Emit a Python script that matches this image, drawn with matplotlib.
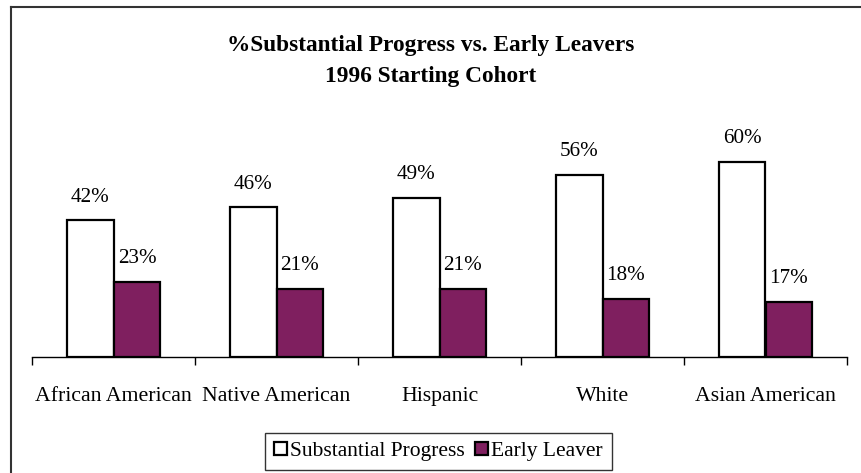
import numpy as np
import matplotlib
matplotlib.use("Agg")
import matplotlib.pyplot as plt
from matplotlib.lines import Line2D

# Data
groups = ["African American", "Native American", "Hispanic", "White", "Asian American"]
progress = [0.42, 0.46, 0.49, 0.56, 0.60]
leavers = [0.23, 0.21, 0.21, 0.18, 0.17]
series_names = ["Substantial Progress", "Early Leaver"]

plt.rcParams['font.family'] = ['Liberation Serif', 'DejaVu Serif']

fig = plt.figure(figsize=(8.62, 4.73), dpi=100)
ax = fig.add_axes([32 / 862, (473 - 357) / 473, 815 / 862, 227.5 / 473])

x = np.arange(len(groups))
w = 0.288
purple = '#7F1F5F'

b1 = ax.bar(x - w / 2, progress, w, color='white', edgecolor='black', linewidth=1.6,
            label=series_names[0])
b2 = ax.bar(x + w / 2, leavers, w, color=purple, edgecolor='black', linewidth=1.6,
            label=series_names[1])

for bars, vals in [(b1, progress), (b2, leavers)]:
    for rect, v in zip(bars, vals):
        ax.annotate(f"{v * 100:.0f}%", (rect.get_x() + rect.get_width() / 2, v),
                    xytext=(0, 10), textcoords='offset points',
                    ha='center', va='bottom', fontsize=15.2)

ax.set_xlim(-0.5, len(groups) - 0.5)
ax.set_ylim(0, 0.7)

# group boundaries get tick marks, category names sit in between
ax.set_xticks(np.arange(len(groups) + 1) - 0.5)
ax.set_xticklabels([])
ax.set_xticks(x, minor=True)
ax.set_xticklabels(groups, minor=True, fontsize=15.7)
ax.tick_params(axis='x', which='major', direction='out', length=6, width=1)
ax.tick_params(axis='x', which='minor', length=0, pad=21.5)
ax.set_yticks([])

for s in ['left', 'top', 'right']:
    ax.spines[s].set_visible(False)
ax.spines['bottom'].set_linewidth(1)

fig.text(0.5, 1 - 45 / 473, "%Substantial Progress vs. Early Leavers",
         ha='center', va='center', fontsize=16.8, fontweight='bold')
fig.text(0.5, 1 - 76 / 473, "1996 Starting Cohort",
         ha='center', va='center', fontsize=16.8, fontweight='bold')

leg = fig.legend(handles=[b1, b2], labels=series_names, loc='center',
                 bbox_to_anchor=(438.5 / 862, 1 - 451.5 / 473), ncol=2, fontsize=15.5,
                 frameon=True, fancybox=False, shadow=False, handlelength=0.6,
                 handleheight=0.6, handletextpad=0.14, columnspacing=0.5,
                 borderpad=0.4, borderaxespad=0)
leg.get_frame().set_edgecolor('black')
leg.get_frame().set_linewidth(1)

# outer frame (top and left edges visible)
fx = 11 / 862
fy = 1 - 7 / 473
fig.add_artist(Line2D([fx, 1], [fy, fy], transform=fig.transFigure, color='#333333', linewidth=1.5))
fig.add_artist(Line2D([fx, fx], [0, fy], transform=fig.transFigure, color='#333333', linewidth=1.5))

fig.savefig("out.png", dpi=100)
